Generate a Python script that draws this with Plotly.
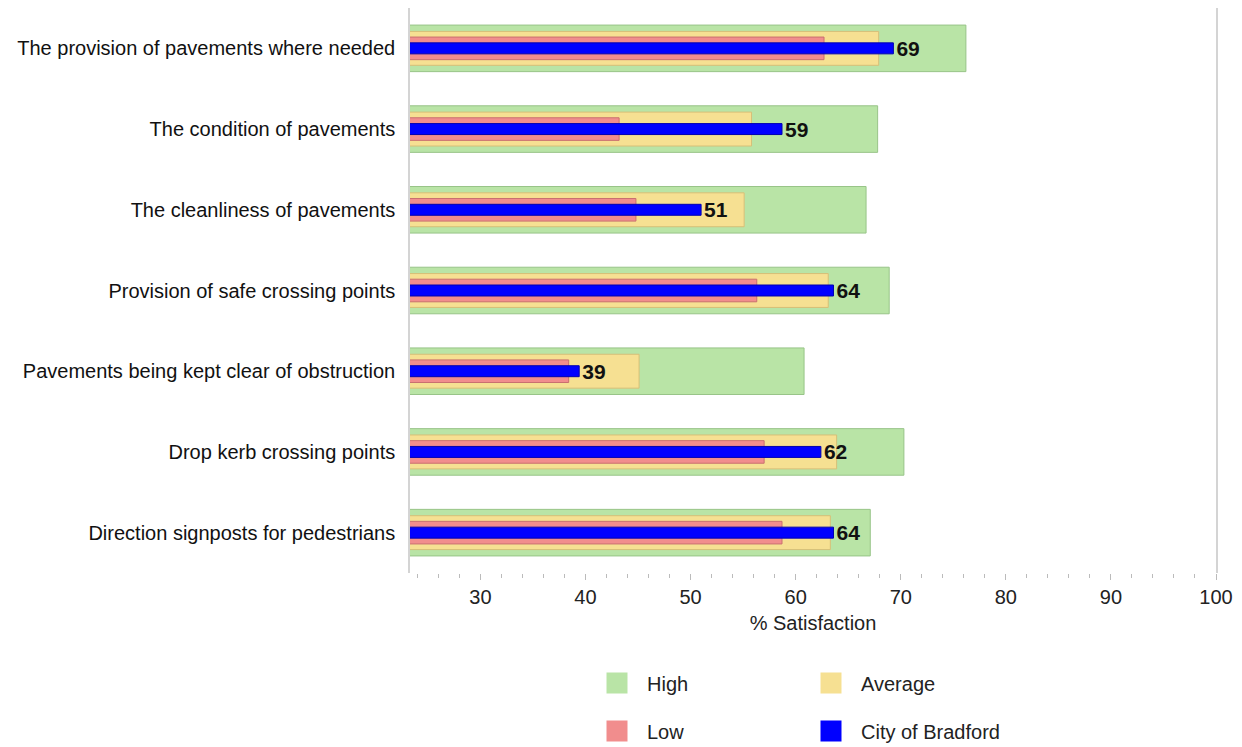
import plotly.graph_objects as go

categories = [
    "The provision of pavements where needed",
    "The condition of pavements",
    "The cleanliness of pavements",
    "Provision of safe crossing points",
    "Pavements being kept clear of obstruction",
    "Drop kerb crossing points",
    "Direction signposts for pedestrians",
]
high = [76.2, 67.8, 66.7, 68.9, 60.8, 70.3, 67.1]
average = [67.9, 55.8, 55.1, 63.1, 45.1, 63.9, 63.3]
low = [62.7, 43.2, 44.8, 56.3, 38.4, 57.0, 58.7]
bradford = [69.3, 58.7, 51.0, 63.6, 39.4, 62.4, 63.6]
tick_vals = [30, 40, 50, 60, 70, 80, 90, 100]

FONT = "Arial, Liberation Sans, sans-serif"

series = [
    ("High", high, "#B9E4A6", "#98C488", 0.577, "legend"),
    ("Average", average, "#F6E092", "#D6BF78", 0.42, "legend"),
    ("Low", low, "#F18D8D", "#C97070", 0.28, "legend2"),
    ("City of Bradford", bradford, "#0000FF", "#0000B0", 0.136, "legend2"),
]

W, H = 1234, 739

fig = go.Figure()
for name, vals, fill, edge, w, lg in series:
    is_city = name == "City of Bradford"
    fig.add_trace(go.Bar(
        y=categories, x=vals, orientation="h", name=name,
        width=w, marker=dict(color=fill, line=dict(color=edge, width=1)),
        showlegend=False,
        text=[f"{round(v)}" for v in vals] if is_city else None,
        textposition="outside" if is_city else "none",
        textfont=dict(family=FONT, size=21, color="#111111", weight="bold"),
        constraintext="none", cliponaxis=False, hoverinfo="x+y",
    ))

# legend entries with larger square swatches
for name, vals, fill, edge, w, lg in series:
    fig.add_trace(go.Scatter(
        x=[None], y=[None], mode="markers", name=name, legend=lg,
        marker=dict(symbol="square", size=16, color=fill, line=dict(color=fill, width=5)),
        showlegend=True,
    ))

legend_common = dict(
    orientation="h", xref="container", yref="container",
    x=579 / W, xanchor="left", yanchor="middle",
    entrywidth=149, entrywidthmode="pixels", itemsizing="trace", itemwidth=50,
    font=dict(size=20, color="#222222"), bgcolor="rgba(0,0,0,0)",
)

fig.update_layout(
    width=W, height=H,
    margin=dict(l=402, r=26, t=0, b=174),
    paper_bgcolor="white", plot_bgcolor="white",
    barmode="overlay",
    font=dict(family=FONT, size=20, color="#222222"),
    xaxis=dict(
        range=[23.3, 100], tickvals=tick_vals, showgrid=False, zeroline=False,
        showline=False, ticks="outside", ticklen=6, tickcolor="#BBBBBB", tickwidth=1,
        minor=dict(dtick=2, tick0=0, ticks="outside", ticklen=4, tickcolor="#BBBBBB", showgrid=False),
        tickfont=dict(size=20, color="#222222"),
        title=dict(text="% Satisfaction", font=dict(size=20, color="#222222"), standoff=8),
    ),
    yaxis=dict(
        autorange="reversed", showgrid=False, zeroline=False,
        showline=True, mirror=True, linecolor="#D4D4D4", linewidth=1.5,
        ticks="", ticklabelstandoff=9, tickfont=dict(size=20, color="#111111"),
    ),
    legend=dict(legend_common, y=1 - 675 / H),
    legend2=dict(legend_common, y=1 - 723 / H),
)

fig.write_html("out.html")
